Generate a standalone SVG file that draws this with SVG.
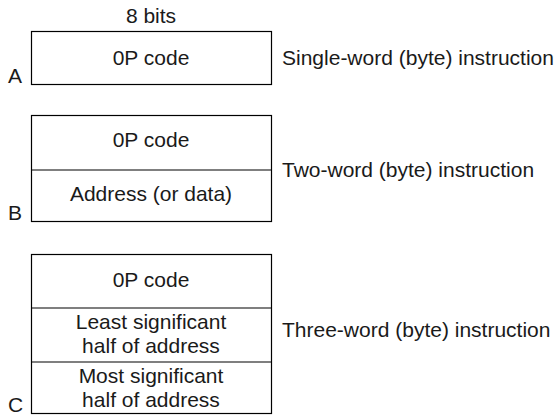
<svg xmlns="http://www.w3.org/2000/svg" width="555" height="416" viewBox="0 0 555 416">
<style>
.box{fill:#fff;stroke:#000;stroke-width:1.2}
.div{stroke:#000;stroke-width:1.2}
text{font-family:"Liberation Sans",Arial,sans-serif;font-size:21px;fill:#1a1a1a}
.c{text-anchor:middle}
</style>
<rect width="555" height="416" fill="#fff"/>
<text class="c" x="151" y="23">8 bits</text>
<g id="A">
<rect class="box" x="31.5" y="31.5" width="240" height="53"/>
<text class="c" x="151" y="65">0P code</text>
<text x="8" y="83">A</text>
<text x="282" y="65">Single-word (byte) instruction</text>
</g>
<g id="B">
<rect class="box" x="31.5" y="115.5" width="240" height="106"/>
<line class="div" x1="31.5" y1="170" x2="271.5" y2="170"/>
<text class="c" x="151" y="147">0P code</text>
<text class="c" x="151" y="201">Address (or data)</text>
<text x="8" y="220">B</text>
<text x="282" y="177">Two-word (byte) instruction</text>
</g>
<g id="C">
<rect class="box" x="31.5" y="254.5" width="240" height="159"/>
<line class="div" x1="31.5" y1="308" x2="271.5" y2="308"/>
<line class="div" x1="31.5" y1="362" x2="271.5" y2="362"/>
<text class="c" x="151" y="287">0P code</text>
<text class="c" x="151" y="329">Least significant</text>
<text class="c" x="151" y="353">half of address</text>
<text class="c" x="151" y="383">Most significant</text>
<text class="c" x="151" y="407">half of address</text>
<text x="8" y="412">C</text>
<text x="282" y="337">Three-word (byte) instruction</text>
</g>
</svg>
